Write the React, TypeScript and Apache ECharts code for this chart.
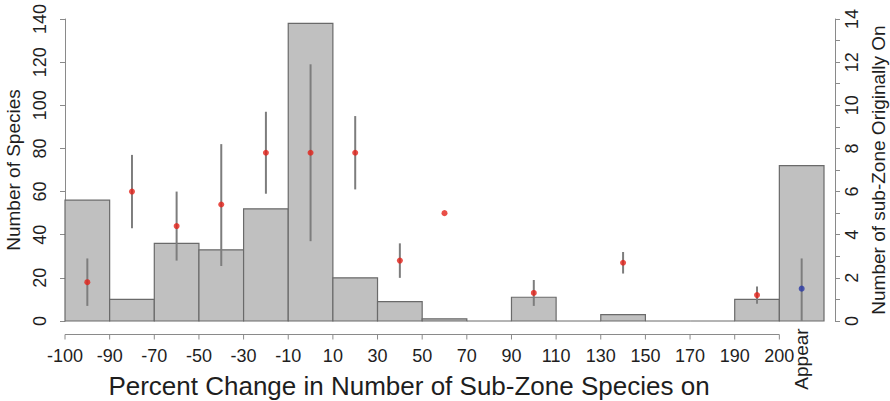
import React, { useEffect, useRef } from "react";
import * as echarts from "echarts";

// Bin boundaries (tick labels on the x axis)
const boundaryLabels = ["-100", "-90", "-70", "-50", "-30", "-10", "10", "30", "50", "70", "90", "110", "130", "150", "170", "190", "200"];
const appearLabel = "Appear";
// Histogram: number of species per bin (left axis)
const speciesCounts = [56, 10, 36, 33, 52, 138, 20, 9, 1, 0, 11, 0, 3, 0, 0, 10, 72];
// Mean number of sub-zones originally on (right axis) with error bar ends
const meanSubZones = [1.8, 6.0, 4.4, 5.4, 7.8, 7.8, 7.8, 2.8, 5.0, null, 1.3, null, 2.7, null, null, 1.2, 1.5];
const errLow = [0.7, 4.3, 2.8, 2.55, 5.9, 3.7, 6.1, 2.0, null, null, 0.7, null, 2.2, null, null, 0.8, 0];
const errHigh = [2.9, 7.7, 6.0, 8.2, 9.7, 11.9, 9.5, 3.6, null, null, 1.9, null, 3.2, null, null, 1.6, 2.9];

const leftTicks = { min: 0, max: 140, interval: 20 };
const rightTicks = { min: 0, max: 14, interval: 1 };

const FONT = "'Liberation Sans', Arial, Helvetica, sans-serif";
const TEXT = "#1e1e1e";
const AXIS = "#8a8a8a";

export default function App() {
  const ref = useRef<HTMLDivElement>(null);
  useEffect(() => {
    if (!ref.current) return;
    const chart = echarts.init(ref.current, undefined, { renderer: "svg" });
    const nBins = speciesCounts.length;
    const lastBoundary = boundaryLabels.length - 1;

    const option: any = {
      animation: false,
      textStyle: { fontFamily: FONT },
      grid: { left: 65, right: 66, top: 19, bottom: 80, outerBoundsMode: "none", containLabel: false },
      xAxis: {
        type: "value",
        min: 0,
        max: nBins,
        interval: 1,
        axisLine: { show: false },
        axisTick: { show: false },
        splitLine: { show: false },
        axisLabel: {
          fontSize: 18,
          color: TEXT,
          fontFamily: FONT,
          margin: 26,
          formatter: (v: number) => boundaryLabels[v] ?? "",
        },
      },
      yAxis: [
        {
          type: "value",
          position: "left",
          offset: 8,
          ...leftTicks,
          name: "Number of Species",
          nameLocation: "middle",
          nameRotate: 90,
          nameGap: 31,
          nameTextStyle: { fontSize: 19, color: TEXT, fontFamily: FONT },
          axisLine: { show: true, lineStyle: { color: AXIS, width: 1 } },
          axisTick: { show: true, length: 5, lineStyle: { color: AXIS } },
          splitLine: { show: false },
          axisLabel: { rotate: 90, fontSize: 18, color: TEXT, fontFamily: FONT, margin: 8 },
        },
        {
          type: "value",
          position: "right",
          offset: 11,
          ...rightTicks,
          name: "Number of sub-Zone Originally On",
          nameLocation: "middle",
          nameRotate: 90,
          nameGap: 30,
          nameTextStyle: { fontSize: 19, color: TEXT, fontFamily: FONT },
          axisLine: { show: true, lineStyle: { color: AXIS, width: 1 } },
          axisTick: { show: true, length: 5, lineStyle: { color: AXIS } },
          splitLine: { show: false },
          axisLabel: {
            rotate: 90,
            fontSize: 18,
            color: TEXT,
            fontFamily: FONT,
            margin: 8,
            formatter: (v: number) => (v % 2 === 0 ? String(v) : ""),
          },
        },
      ],
      graphic: [
        {
          type: "text",
          x: 409,
          y: 386,
          style: {
            text: "Percent Change in Number of Sub-Zone Species on",
            fontSize: 26,
            fontFamily: FONT,
            fill: TEXT,
            textAlign: "center",
            textVerticalAlign: "middle",
          },
        },
      ],
      series: [
        {
          type: "custom",
          name: "counts",
          xAxisIndex: 0,
          yAxisIndex: 0,
          z: 1,
          encode: { x: 0, y: 1 },
          data: speciesCounts.map((v, i) => [i, v]),
          renderItem: (params: any, api: any) => {
            const i = api.value(0);
            const v = api.value(1);
            const p0 = api.coord([i, 0]);
            const p1 = api.coord([i + 1, v]);
            return {
              type: "rect",
              shape: { x: p0[0], y: p1[1], width: p1[0] - p0[0], height: p0[1] - p1[1] },
              style: { fill: "#c0c0c0", stroke: "#6a6a6a", lineWidth: 1.2 },
            };
          },
        },
        {
          type: "custom",
          name: "axis",
          xAxisIndex: 0,
          yAxisIndex: 0,
          clip: false,
          silent: true,
          z: 1,
          data: [[0, 0]],
          renderItem: (params: any, api: any) => {
            const a = api.coord([0, 0]);
            const b = api.coord([lastBoundary, 0]);
            const y = a[1] + 13.5;
            const children: any[] = [
              { type: "line", shape: { x1: a[0], y1: y, x2: b[0], y2: y }, style: { stroke: AXIS, lineWidth: 1 } },
            ];
            for (let k = 0; k <= lastBoundary; k++) {
              const p = api.coord([k, 0]);
              children.push({
                type: "line",
                shape: { x1: p[0], y1: y, x2: p[0], y2: y + 5 },
                style: { stroke: AXIS, lineWidth: 1 },
              });
            }
            const ap = api.coord([lastBoundary + 0.5, 0]);
            children.push({
              type: "text",
              x: ap[0],
              y: a[1] + 38,
              rotation: Math.PI / 2,
              style: {
                text: appearLabel,
                fontSize: 19,
                fontFamily: FONT,
                fill: TEXT,
                textAlign: "center",
                textVerticalAlign: "middle",
              },
            });
            return { type: "group", children };
          },
        },
        {
          type: "custom",
          name: "errors",
          xAxisIndex: 0,
          yAxisIndex: 1,
          z: 2,
          encode: { x: 0, y: [1, 2] },
          data: errLow
            .map((lo, i) => (lo == null || errHigh[i] == null ? null : [i + 0.5, lo, errHigh[i]]))
            .filter((d) => d != null),
          renderItem: (params: any, api: any) => {
            const x = api.value(0);
            const lo = api.coord([x, api.value(1)]);
            const hi = api.coord([x, api.value(2)]);
            return {
              type: "line",
              shape: { x1: lo[0], y1: lo[1], x2: hi[0], y2: hi[1] },
              style: { stroke: "#7d7d7d", lineWidth: 2 },
            };
          },
        },
        {
          type: "scatter",
          name: "mean",
          xAxisIndex: 0,
          yAxisIndex: 1,
          z: 3,
          symbol: "circle",
          symbolSize: 6,
          data: meanSubZones
            .map((m, i) =>
              m == null
                ? null
                : {
                    value: [i + 0.5, m],
                    itemStyle: { color: i === nBins - 1 ? "#2b3aa6" : "#e32219" },
                  }
            )
            .filter((d) => d != null),
        },
      ],
    };
    chart.setOption(option);
    return () => chart.dispose();
  }, []);
  return (
    <div
      ref={ref}
      style={{ position: "fixed", left: 0, top: 0, width: 890, height: 401, background: "#fff" }}
    />
  );
}
